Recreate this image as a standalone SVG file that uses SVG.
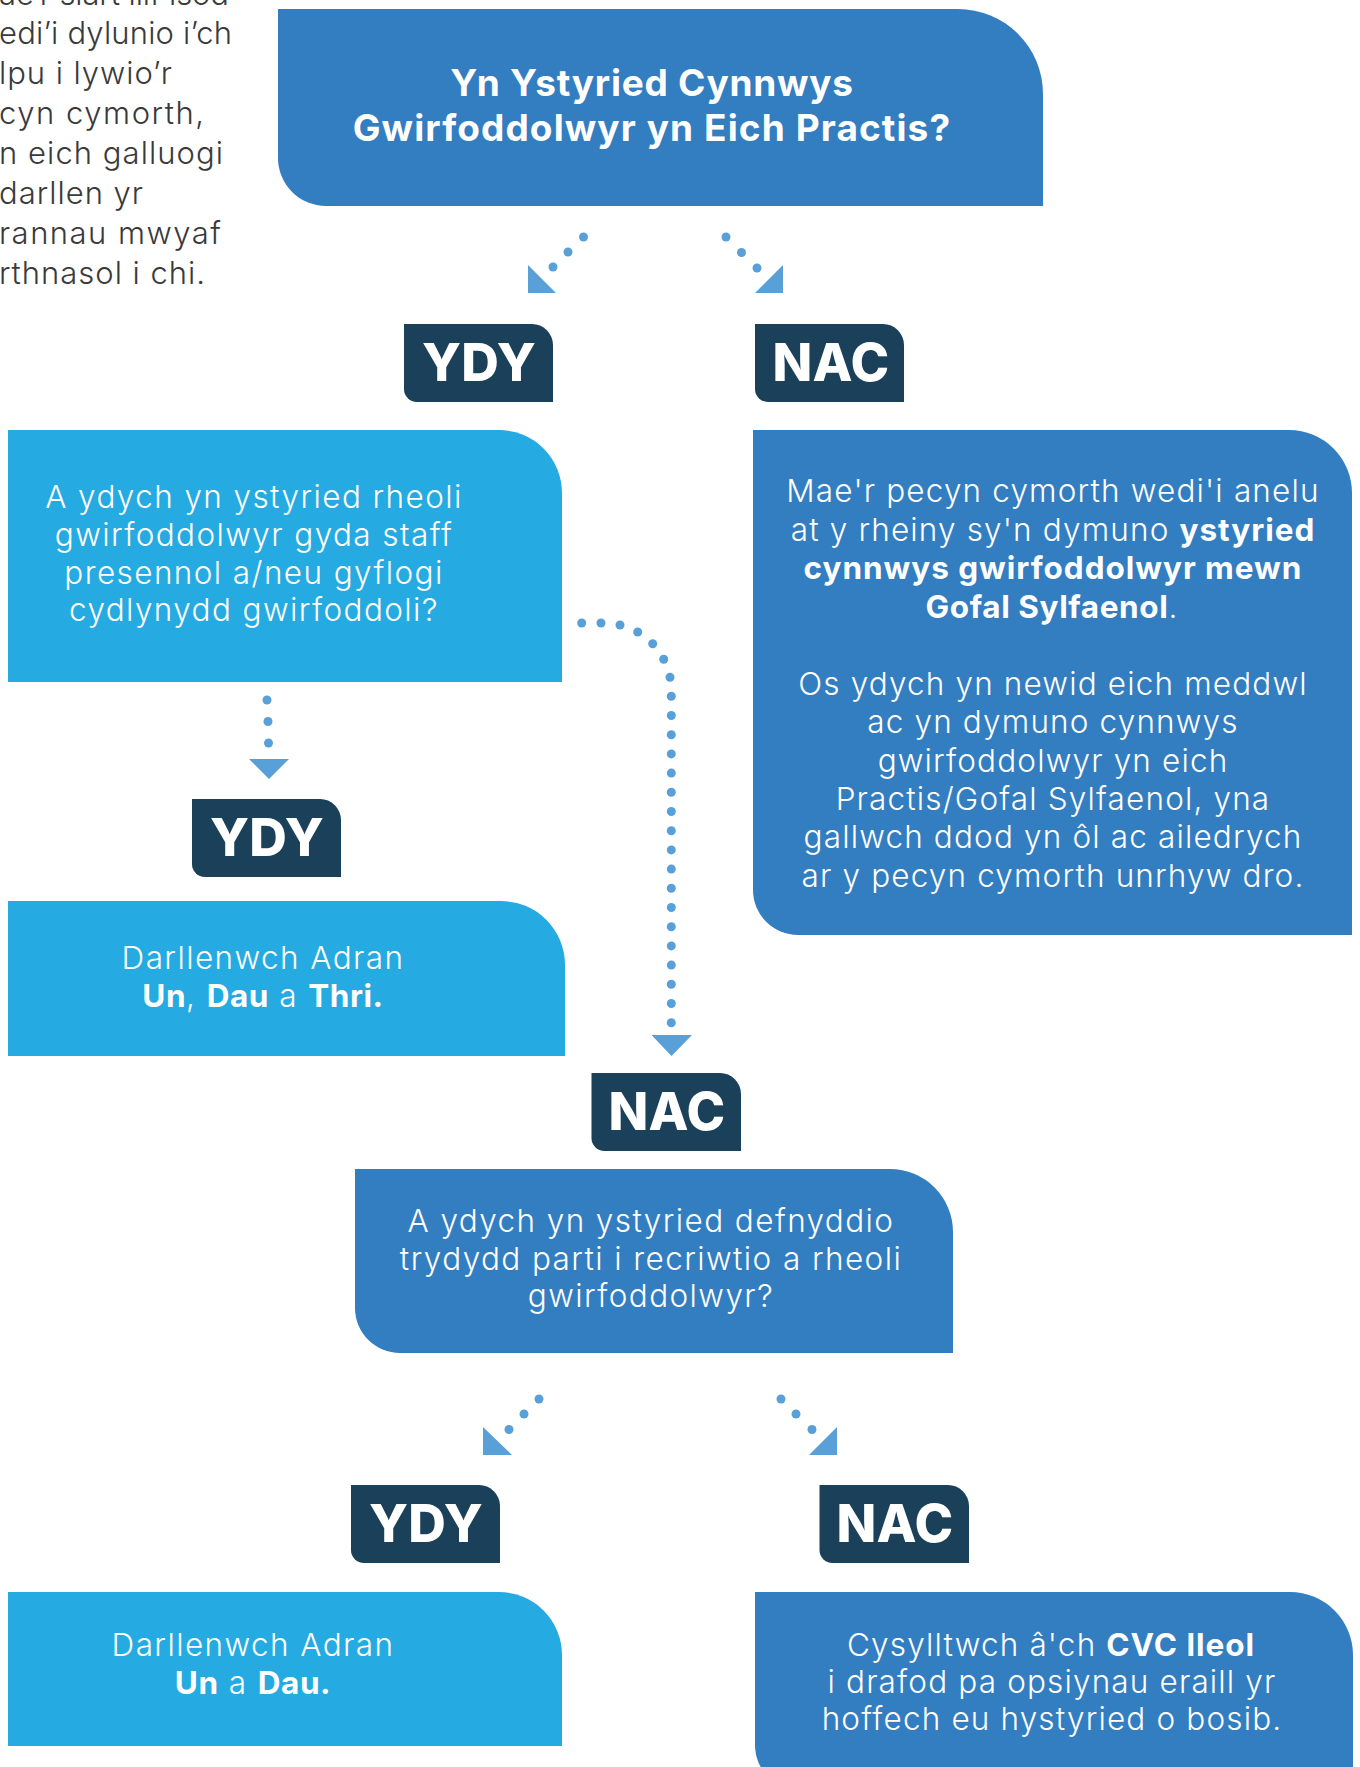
<svg xmlns="http://www.w3.org/2000/svg" width="1360" height="1767" viewBox="0 0 1360 1767">
<style>
text{font-family:"Inter","Liberation Sans",sans-serif}
.body{font-size:31.5px;font-weight:300;fill:#fff;text-anchor:middle;letter-spacing:1.15px}
.body tspan{font-weight:700;letter-spacing:.96px}
.wide .body{letter-spacing:1.4px}
.wide .body tspan{letter-spacing:.55px}
.intro{font-size:31px;font-weight:300;fill:#3a3a3a}
.title{font-size:37px;font-weight:700;fill:#fff;text-anchor:middle;letter-spacing:1.1px}
.badge{font-size:52px;font-weight:800;fill:#fff;text-anchor:middle;letter-spacing:.3px}
.mid{fill:#337dc1}.light{fill:#25aae2}.dark{fill:#1b4059}
#connectors circle{fill:#5aa0d8;r:4.5px}
.tri{fill:#5aa0d8}
</style>
<rect width="1360" height="1767" fill="#fff"/>
<g id="intro">
<text class="intro" x="-1" y="5" textLength="230">ae’r siart llif isod</text>
<text class="intro" x="-1" y="44" textLength="233">edi’i dylunio i’ch</text>
<text class="intro" x="-1" y="84" textLength="173">lpu i lywio’r</text>
<text class="intro" x="-1" y="124" textLength="205">cyn cymorth,</text>
<text class="intro" x="-1" y="164" textLength="224">n eich galluogi</text>
<text class="intro" x="-1" y="204" textLength="144">darllen yr</text>
<text class="intro" x="-1" y="244" textLength="222">rannau mwyaf</text>
<text class="intro" x="-1" y="284" textLength="206">rthnasol i chi.</text>
</g>
<g id="connectors">
<g id="c-title-ydy"><circle cx="583.5" cy="237"/><circle cx="568" cy="252"/><circle cx="553" cy="267"/><polygon class="tri" points="528,265 528,293 556,293"/></g>
<g id="c-title-nac"><circle cx="726" cy="237"/><circle cx="741.500" cy="252.500"/><circle cx="757" cy="268"/><polygon class="tri" points="783,265 783,293 755,293"/></g>
<g id="c-q1-ydy"><circle cx="267" cy="700"/><circle cx="268" cy="721.500"/><circle cx="268.500" cy="743"/><polygon class="tri" points="249,759 289,759 269,779"/></g>
<g id="c-q1-nac"><circle cx="581.700" cy="623"/><circle cx="601" cy="623"/><circle cx="620" cy="625"/><circle cx="637.700" cy="632"/><circle cx="652.700" cy="643.700"/><circle cx="663.700" cy="659.300"/><circle cx="670" cy="677.300"/><circle cx="671.300" cy="696.300"/><circle cx="671.300" cy="715.500"/><circle cx="671.300" cy="734.700"/><circle cx="671.300" cy="753.900"/><circle cx="671.300" cy="773.100"/><circle cx="671.300" cy="792.300"/><circle cx="671.300" cy="811.500"/><circle cx="671.300" cy="830.700"/><circle cx="671.300" cy="849.900"/><circle cx="671.300" cy="869.100"/><circle cx="671.300" cy="888.300"/><circle cx="671.300" cy="907.500"/><circle cx="671.300" cy="926.700"/><circle cx="671.300" cy="945.900"/><circle cx="671.300" cy="965.100"/><circle cx="671.300" cy="984.300"/><circle cx="671.300" cy="1003.500"/><circle cx="671.300" cy="1022.700"/><polygon class="tri" points="651.500,1035 692,1035 671.500,1056"/></g>
<g id="c-q2-ydy"><circle cx="539" cy="1399"/><circle cx="524" cy="1414"/><circle cx="509" cy="1429.500"/><polygon class="tri" points="483,1427 483,1455 512,1455"/></g>
<g id="c-q2-nac"><circle cx="781" cy="1399"/><circle cx="796" cy="1414"/><circle cx="812" cy="1429.500"/><polygon class="tri" points="837,1427 837,1455 809,1455"/></g>
</g>
<g id="n-title">
<path class="mid" d="M278 9H958A85 85 0 0 1 1043 94V206H326A48 48 0 0 1 278 158Z"/>
<text class="title" x="652" y="96" style="letter-spacing:.75px">Yn Ystyried Cynnwys</text>
<text class="title" x="652" y="141">Gwirfoddolwyr yn Eich Practis?</text>
</g>
<g id="b-ydy1"><path class="dark" d="M404 324H532A21 21 0 0 1 553 345V402H417A13 13 0 0 1 404 389Z"/><text class="badge" x="479" y="381">YDY</text></g>
<g id="b-nac1"><path class="dark" d="M755 324H883A21 21 0 0 1 904 345V402H768A13 13 0 0 1 755 389Z"/><text class="badge" x="831" y="381">NAC</text></g>
<g id="n-q1" class="wide">
<path class="light" d="M8 430H499A63 63 0 0 1 562 493V682H8Z"/>
<text class="body" x="254" y="508">A ydych yn ystyried rheoli</text>
<text class="body" x="254" y="546">gwirfoddolwyr gyda staff</text>
<text class="body" x="254" y="584">presennol a/neu gyflogi</text>
<text class="body" x="254" y="621">cydlynydd gwirfoddoli?</text>
</g>
<g id="n-no1">
<path class="mid" d="M753 430H1289A63 63 0 0 1 1352 493V935H798A45 45 0 0 1 753 890Z"/>
<text class="body" x="1053" y="502">Mae'r pecyn cymorth wedi'i anelu</text>
<text class="body" x="1053" y="541">at y rheiny sy'n dymuno <tspan>ystyried</tspan></text>
<text class="body" x="1053" y="579"><tspan>cynnwys gwirfoddolwyr mewn</tspan></text>
<text class="body" x="1052" y="618"><tspan style="letter-spacing:.6px">Gofal Sylfaenol</tspan>.</text>
<text class="body" x="1053" y="695">Os ydych yn newid eich meddwl</text>
<text class="body" x="1053" y="733">ac yn dymuno cynnwys</text>
<text class="body" x="1053" y="772">gwirfoddolwyr yn eich</text>
<text class="body" x="1053" y="810">Practis/Gofal Sylfaenol, yna</text>
<text class="body" x="1053" y="848">gallwch ddod yn ôl ac ailedrych</text>
<text class="body" x="1053" y="887">ar y pecyn cymorth unrhyw dro.</text>
</g>
<g id="b-ydy2"><path class="dark" d="M192 799H320A21 21 0 0 1 341 820V877H205A13 13 0 0 1 192 864Z"/><text class="badge" x="267" y="856">YDY</text></g>
<g id="n-read1" class="wide">
<path class="light" d="M8 901H501A64 64 0 0 1 565 965V1056H8Z"/>
<text class="body" x="263" y="969">Darllenwch Adran</text>
<text class="body" x="263" y="1007"><tspan>Un</tspan>, <tspan>Dau</tspan> a <tspan>Thri.</tspan></text>
</g>
<g id="b-nac2"><path class="dark" d="M591.500 1073H720A21 21 0 0 1 741 1094V1151H604.500A13 13 0 0 1 591.500 1138Z"/><text class="badge" x="667" y="1130">NAC</text></g>
<g id="n-q2" class="wide">
<path class="mid" d="M355 1169H890A63 63 0 0 1 953 1232V1353H400A45 45 0 0 1 355 1308Z"/>
<text class="body" x="651" y="1232">A ydych yn ystyried defnyddio</text>
<text class="body" x="651" y="1270">trydydd parti i recriwtio a rheoli</text>
<text class="body" x="651" y="1307">gwirfoddolwyr?</text>
</g>
<g id="b-ydy3"><path class="dark" d="M351 1485H479A21 21 0 0 1 500 1506V1563H364A13 13 0 0 1 351 1550Z"/><text class="badge" x="426" y="1542">YDY</text></g>
<g id="b-nac3"><path class="dark" d="M819.500 1485H948A21 21 0 0 1 969 1506V1563H832.500A13 13 0 0 1 819.500 1550Z"/><text class="badge" x="895" y="1542">NAC</text></g>
<g id="n-read2" class="wide">
<path class="light" d="M8 1592H499A63 63 0 0 1 562 1655V1746H8Z"/>
<text class="body" x="253" y="1656">Darllenwch Adran</text>
<text class="body" x="253" y="1694"><tspan>Un</tspan> a <tspan>Dau.</tspan></text>
</g>
<g id="n-no2">
<path class="mid" d="M755 1592H1290A63 63 0 0 1 1353 1655V1790H800A45 45 0 0 1 755 1745Z"/>
<text class="body" x="1051" y="1656">Cysylltwch â'ch <tspan>CVC lleol</tspan></text>
<text class="body" x="1052" y="1693">i drafod pa opsiynau eraill yr</text>
<text class="body" x="1052" y="1730">hoffech eu hystyried o bosib.</text>
</g>
</svg>
